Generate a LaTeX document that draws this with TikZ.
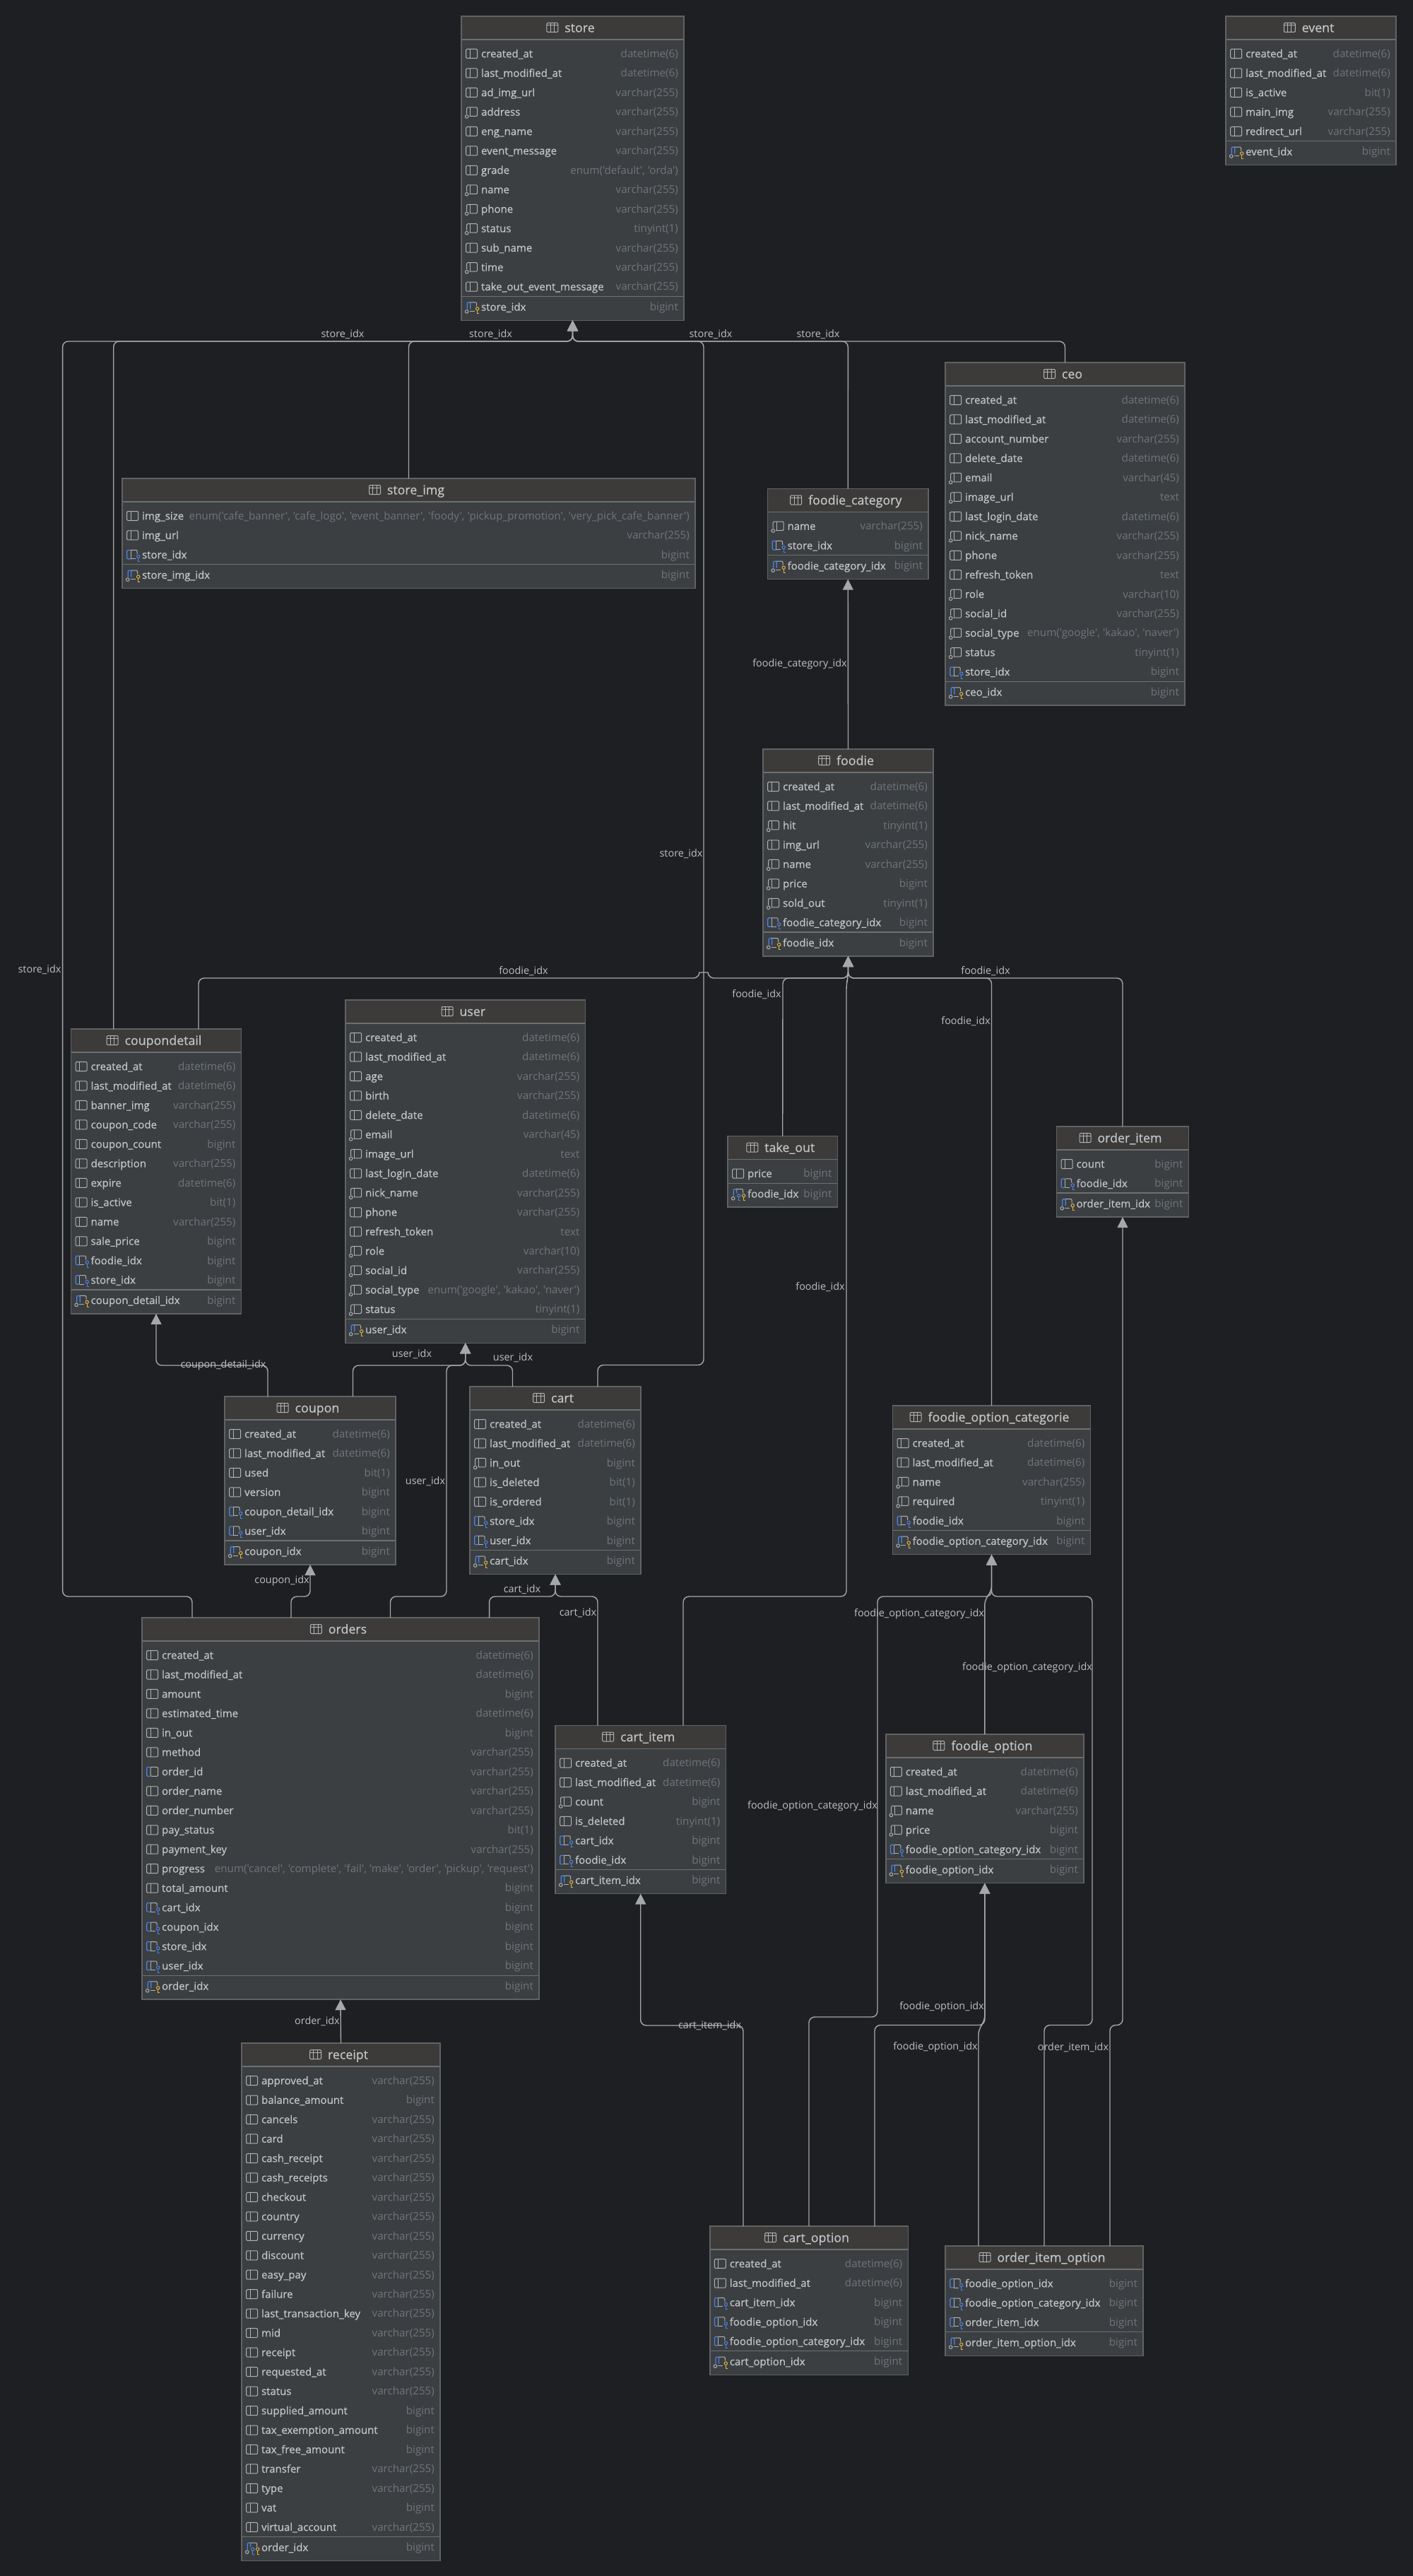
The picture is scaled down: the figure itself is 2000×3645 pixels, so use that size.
\documentclass[tikz,border=0pt]{standalone}
\usepackage{fontspec}
\usetikzlibrary{arrows.meta}
\newfontfamily\erdname[FakeBold=0.6]{Open Sans}
\newfontfamily\erdplain{Open Sans}
\definecolor{bgcol}{HTML}{1E1F22}
\definecolor{bodycol}{HTML}{3B3F42}
\definecolor{headcol}{HTML}{3C3B3A}
\definecolor{bordcol}{HTML}{606264}
\definecolor{sepcol}{HTML}{6E6F70}
\definecolor{namecol}{HTML}{C2C4C6}
\definecolor{typecol}{HTML}{70757A}
\definecolor{linecol}{HTML}{A6A7A8}
\definecolor{lblcol}{HTML}{BEBFC0}
\definecolor{iconcol}{HTML}{B0B2B4}
\definecolor{bluecol}{HTML}{4E82E4}
\definecolor{keycol}{HTML}{E4B23C}
\tikzset{
  x=0.5pt,y=-0.5pt,
  tablebox/.style={draw=bordcol,line width=0.8pt,inner sep=0pt,outer sep=0pt,fill=bodycol},
  headband/.style={fill=headcol},
  rule/.style={draw=sepcol,line width=0.7pt},
  titletext/.style={inner sep=0pt,text=namecol,font=\erdname\fontsize{8.9pt}{10pt}\selectfont},
  colname/.style={inner sep=0pt,text=namecol,font=\erdname\fontsize{7.5pt}{9pt}\selectfont},
  coltype/.style={inner sep=0pt,text=typecol,font=\erdplain\fontsize{7.6pt}{9pt}\selectfont},
  edgelabel/.style={inner sep=0pt,text=lblcol,font=\erdplain\fontsize{7.2pt}{9pt}\selectfont},
  ic/.style={draw=iconcol,line width=0.5pt,rounded corners=0.7pt},
  icb/.style={draw=bluecol,line width=0.6pt,rounded corners=0.7pt},
  conn/.style={draw=linecol,line width=0.7pt,rounded corners=4pt},
  fk/.style={conn,-{Triangle[length=7.5pt,width=7.5pt,fill=linecol]}},
}
\newcommand\ickey[1]{%
  \draw[draw=#1,line width=0.5pt] (16,2.5) circle (2.2);
  \draw[draw=#1,line width=0.5pt] (16,4.7) -- (16,9.5) -- (18.5,9.5);}
\newcommand\icn{\draw[ic] (0,-6.5) rectangle (16,6.5); \draw[ic] (5.5,-6.5) -- (5.5,6.5);}
\newcommand\ico{\draw[ic] (1,3) -- (1,-6.5) -- (16,-6.5) -- (16,6) -- (5,6); \draw[ic] (6,-6.5) -- (6,6);
  \draw[draw=iconcol,line width=0.5pt] (1,6.5) circle (2.3);}
\newcommand\icu{\draw[ic] (5.5,-6.5) -- (16,-6.5) -- (16,6.5) -- (5.5,6.5) -- cycle;
  \draw[icb] (5.5,-6.5) -- (0,-6.5) -- (0,6.5) -- (5.5,6.5);}
\newcommand\icf{\draw[ic] (5.5,-6.5) -- (14.5,-6.5) -- (14.5,-1); \draw[ic] (5.5,6) -- (12,6); \draw[ic] (5.5,-6.5) -- (5.5,6);
  \draw[icb] (5.5,-6.5) -- (0,-6.5) -- (0,6) -- (5.5,6); \ickey{bluecol}}
\newcommand\icp{\draw[ic] (5.5,-6.5) -- (15,-6.5) -- (15,-1); \draw[ic] (5,6) -- (12,6);
  \draw[icb] (1.5,3) -- (1.5,-6.5) -- (6,-6.5) -- (6,3); \draw[draw=iconcol,line width=0.5pt] (1,6.5) circle (2.3);
  \ickey{keycol}}
\newcommand\icq{\draw[ic] (5.5,-6.5) -- (15,-6.5) -- (15,-1);
  \draw[icb] (1.5,3) -- (1.5,-6.5) -- (6,-6.5) -- (6,-1); \draw[draw=iconcol,line width=0.5pt] (1,6.5) circle (2.3);
  \draw[draw=bluecol,line width=0.5pt] (9,2.5) circle (2.2); \draw[draw=bluecol,line width=0.5pt] (9,4.7) -- (9,9.5) -- (11.5,9.5);
  \ickey{keycol}}
% id, left, right, top, number of plain rows, rows, pk name, pk icon
\newcommand\erd[8]{%
  \pgfmathsetmacro\erS{#4+53+(#5-1)*27.47+13.7}%
  \pgfmathsetmacro\erP{\erS+15}%
  \pgfmathsetmacro\erB{\erP+19}%
  \node[tablebox,anchor=north west,minimum width={(#3-#2)*0.5pt},minimum height={(\erB-#4)*0.5pt}] (#1) at (#2,#4) {};
  \fill[headband] (#2,#4) rectangle (#3,#4+33);
  \draw[rule] (#2,#4+33) -- (#3,#4+33);
  \draw[rule] (#2,\erS) -- (#3,\erS);
  \draw[draw=bordcol,line width=0.8pt] (#2,#4) rectangle (#3,\erB);
  \node[titletext,anchor=base] (#1-title) at ({(#2+#3)/2+10},#4+22.5) {#1};
  \begin{scope}[shift={(#1-title.base west)}]
    \draw[ic] (-25,-13) rectangle (-9,0);
    \draw[ic] (-25,-9.5) -- (-9,-9.5);
    \draw[ic] (-19.7,-13) -- (-19.7,0);
    \draw[ic] (-14.3,-13) -- (-14.3,0);
  \end{scope}
  \foreach \kd/\nm/\ty [count=\ri] in {#6} {
    \pgfmathsetmacro\ry{#4+53+(\ri-1)*27.47}
    \begin{scope}[shift={(#2+6.7,\ry)}]\csname ic\kd\endcsname\end{scope}
    \node[colname,anchor=base west] (#1-n\ri) at (#2+27.7,\ry+5.3) {\nm};
    \node[coltype,anchor=base east] (#1-t\ri) at (#3-7.7,\ry+5.3) {\ty};
  }
  \begin{scope}[shift={(#2+6.7,\erP)}]\csname ic#8\endcsname\end{scope}
  \node[colname,anchor=base west] (#1-pk) at (#2+27.7,\erP+5.3) {#7};
  \node[coltype,anchor=base east] (#1-pkt) at (#3-7.7,\erP+5.3) {bigint};
}
\catcode`\_=12
\begin{document}
\begin{tikzpicture}
\useasboundingbox (0,0) rectangle (2000,3645);
\fill[bgcol] (0,0) rectangle (2000,3645);

\erd{store}{653}{968}{23}{13}{n/created_at/datetime(6),n/last_modified_at/datetime(6),n/ad_img_url/varchar(255),o/address/varchar(255),n/eng_name/varchar(255),n/event_message/varchar(255),n/grade/{enum('default', 'orda')},o/name/varchar(255),o/phone/varchar(255),o/status/tinyint(1),n/sub_name/varchar(255),o/time/varchar(255),n/take_out_event_message/varchar(255)}{store_idx}{p}
\erd{event}{1735}{1976}{23}{5}{n/created_at/datetime(6),n/last_modified_at/datetime(6),n/is_active/bit(1),n/main_img/varchar(255),n/redirect_url/varchar(255)}{event_idx}{p}
\erd{ceo}{1338}{1677}{513}{15}{n/created_at/datetime(6),n/last_modified_at/datetime(6),n/account_number/varchar(255),n/delete_date/datetime(6),o/email/varchar(45),o/image_url/text,n/last_login_date/datetime(6),o/nick_name/varchar(255),n/phone/varchar(255),n/refresh_token/text,o/role/varchar(10),o/social_id/varchar(255),o/social_type/{enum('google', 'kakao', 'naver')},o/status/tinyint(1),f/store_idx/bigint}{ceo_idx}{p}
\erd{store_img}{173}{984}{677}{3}{n/img_size/{enum('cafe_banner', 'cafe_logo', 'event_banner', 'foody', 'pickup_promotion', 'very_pick_cafe_banner')},n/img_url/varchar(255),f/store_idx/bigint}{store_img_idx}{p}
\erd{foodie_category}{1086.5}{1314}{691.5}{2}{o/name/varchar(255),f/store_idx/bigint}{foodie_category_idx}{p}
\erd{foodie}{1080}{1321}{1060}{8}{n/created_at/datetime(6),n/last_modified_at/datetime(6),o/hit/tinyint(1),n/img_url/varchar(255),o/name/varchar(255),o/price/bigint,o/sold_out/tinyint(1),f/foodie_category_idx/bigint}{foodie_idx}{p}
\erd{coupondetail}{100.5}{341.5}{1456}{12}{n/created_at/datetime(6),n/last_modified_at/datetime(6),n/banner_img/varchar(255),n/coupon_code/varchar(255),n/coupon_count/bigint,n/description/varchar(255),n/expire/datetime(6),n/is_active/bit(1),n/name/varchar(255),n/sale_price/bigint,f/foodie_idx/bigint,f/store_idx/bigint}{coupon_detail_idx}{p}
\erd{user}{489}{828.5}{1415}{15}{n/created_at/datetime(6),n/last_modified_at/datetime(6),n/age/varchar(255),n/birth/varchar(255),n/delete_date/datetime(6),o/email/varchar(45),o/image_url/text,n/last_login_date/datetime(6),o/nick_name/varchar(255),n/phone/varchar(255),n/refresh_token/text,o/role/varchar(10),o/social_id/varchar(255),o/social_type/{enum('google', 'kakao', 'naver')},o/status/tinyint(1)}{user_idx}{p}
\erd{take_out}{1030}{1185.5}{1607.5}{1}{n/price/bigint}{foodie_idx}{q}
\erd{order_item}{1495.5}{1682.5}{1594}{2}{n/count/bigint,f/foodie_idx/bigint}{order_item_idx}{p}
\erd{coupon}{318}{560}{1976}{6}{n/created_at/datetime(6),n/last_modified_at/datetime(6),n/used/bit(1),n/version/bigint,f/coupon_detail_idx/bigint,f/user_idx/bigint}{coupon_idx}{p}
\erd{cart}{665}{907}{1962}{7}{n/created_at/datetime(6),n/last_modified_at/datetime(6),o/in_out/bigint,n/is_deleted/bit(1),n/is_ordered/bit(1),f/store_idx/bigint,f/user_idx/bigint}{cart_idx}{p}
\erd{foodie_option_categorie}{1263.5}{1543.5}{1989}{5}{n/created_at/datetime(6),n/last_modified_at/datetime(6),o/name/varchar(255),o/required/tinyint(1),f/foodie_idx/bigint}{foodie_option_category_idx}{p}
\erd{orders}{201}{763}{2289}{17}{n/created_at/datetime(6),n/last_modified_at/datetime(6),n/amount/bigint,n/estimated_time/datetime(6),n/in_out/bigint,n/method/varchar(255),u/order_id/varchar(255),n/order_name/varchar(255),n/order_number/varchar(255),n/pay_status/bit(1),n/payment_key/varchar(255),n/progress/{enum('cancel', 'complete', 'fail', 'make', 'order', 'pickup', 'request')},n/total_amount/bigint,f/cart_idx/bigint,f/coupon_idx/bigint,f/store_idx/bigint,f/user_idx/bigint}{order_idx}{p}
\erd{cart_item}{786}{1027.5}{2441.5}{6}{n/created_at/datetime(6),n/last_modified_at/datetime(6),o/count/bigint,n/is_deleted/tinyint(1),f/cart_idx/bigint,f/foodie_idx/bigint}{cart_item_idx}{p}
\erd{foodie_option}{1253.7}{1534}{2454}{5}{n/created_at/datetime(6),n/last_modified_at/datetime(6),o/name/varchar(255),o/price/bigint,f/foodie_option_category_idx/bigint}{foodie_option_idx}{p}
\erd{receipt}{342}{623}{2891}{24}{n/approved_at/varchar(255),n/balance_amount/bigint,n/cancels/varchar(255),n/card/varchar(255),n/cash_receipt/varchar(255),n/cash_receipts/varchar(255),n/checkout/varchar(255),n/country/varchar(255),n/currency/varchar(255),n/discount/varchar(255),n/easy_pay/varchar(255),n/failure/varchar(255),n/last_transaction_key/varchar(255),n/mid/varchar(255),n/receipt/varchar(255),n/requested_at/varchar(255),n/status/varchar(255),n/supplied_amount/bigint,n/tax_exemption_amount/bigint,n/tax_free_amount/bigint,n/transfer/varchar(255),n/type/varchar(255),n/vat/bigint,n/virtual_account/varchar(255)}{order_idx}{q}
\erd{cart_option}{1004.7}{1285.3}{3150}{5}{n/created_at/datetime(6),n/last_modified_at/datetime(6),f/cart_item_idx/bigint,f/foodie_option_idx/bigint,f/foodie_option_category_idx/bigint}{cart_option_idx}{p}
\erd{order_item_option}{1338}{1618}{3178}{3}{f/foodie_option_idx/bigint,f/foodie_option_category_idx/bigint,f/order_item_idx/bigint}{order_item_option_idx}{p}

% store_idx
\draw[fk] (272,0 |- orders.north) -- (272,2259) -- (88.6,2259) -- (88.6,483) -- (810.5,483) -- (store.south);
\draw[fk] (160.7,0 |- coupondetail.north) -- (160.7,483) -- (810.5,483) -- (store.south);
\draw[fk] (store_img.north) -- (578.5,483) -- (810.5,483) -- (store.south);
\draw[fk] (846,0 |- cart.north) -- (846,1931.5) -- (996,1931.5) -- (996,483) -- (810.5,483) -- (store.south);
\draw[fk] (foodie_category.north) -- (1200.3,483) -- (810.5,483) -- (store.south);
\draw[fk] (ceo.north) -- (1507.5,483) -- (810.5,483) -- (store.south);
% foodie_category_idx
\draw[fk] (foodie.north) -- (foodie_category.south);
% foodie_idx
\draw[fk] (281,0 |- coupondetail.north) -- (281,1384) -- (989.5,1384) .. controls (990,1376) and (1002,1376) .. (1002.5,1384) -- (1200.5,1384) -- (foodie.south);
\draw[fk] (take_out.north) -- (1108,1384) -- (1200.5,1384) -- (foodie.south);
\draw[fk] (967,0 |- cart_item.north) -- (967,2259) -- (1198,2259) -- (1198,1392) -- (1200.5,1382) -- (foodie.south);
\draw[fk] (foodie_option_categorie.north) -- (1403.5,1384) -- (1200.5,1384) -- (foodie.south);
\draw[fk] (order_item.north) -- (1589,1384) -- (1200.5,1384) -- (foodie.south);
% user_idx
\draw[fk] (499.5,0 |- coupon.north) -- (499.5,1932) -- (658.7,1932) -- (user.south);
\draw[fk] (725.5,0 |- cart.north) -- (725.5,1932) -- (658.7,1932) -- (user.south);
\draw[fk] (552.5,0 |- orders.north) -- (552.5,2259) -- (632,2259) -- (632,1932) -- (658.7,1932) -- (user.south);
% coupon
\draw[fk] (379,0 |- coupon.north) -- (379,1932) -- (221,1932) -- (coupondetail.south);
\draw[fk] (412,0 |- orders.north) -- (412,2259) -- (439,2259) -- (coupon.south);
% cart_idx
\draw[fk] (692.6,0 |- orders.north) -- (692.6,2259) -- (786,2259) -- (cart.south);
\draw[fk] (846,0 |- cart_item.north) -- (846,2259) -- (786,2259) -- (cart.south);
% order_idx
\draw[fk] (receipt.north) -- (orders.south);
% cart_item_idx
\draw[fk] (1052,0 |- cart_option.north) -- (1052,2866) -- (906.7,2866) -- (cart_item.south);
% foodie_option_category_idx
\draw[fk] (foodie_option.north) -- (1393.8,2263) -- (1403.5,2252) -- (foodie_option_categorie.south);
\draw[fk] (cart_option.north) -- (1145,2854) -- (1242,2854) -- (1242,2259) -- (1403.5,2259) -- (foodie_option_categorie.south);
\draw[fk] (order_item_option.north) -- (1478,2865.5) -- (1546,2865.5) -- (1546,2259) -- (1403.5,2259) -- (foodie_option_categorie.south);
% foodie_option_idx
\draw[fk] (1238,0 |- cart_option.north) -- (1238,2865.5) -- (1393.8,2865.5) -- (foodie_option.south);
\draw[fk] (1385,0 |- order_item_option.north) -- (1385,2871) -- (1393.8,2860) -- (foodie_option.south);
% order_item_idx
\draw[fk] (1571,0 |- order_item_option.north) -- (1571,2865.5) -- (1589,2865.5) -- (order_item.south);

% connector labels
\node[edgelabel] (l01) at (485,473) {store_idx};
\node[edgelabel] (l02) at (694.5,473) {store_idx};
\node[edgelabel] (l03) at (1006,473) {store_idx};
\node[edgelabel] (l04) at (1158,473) {store_idx};
\node[edgelabel] (l05) at (56,1372) {store_idx};
\node[edgelabel] (l06) at (964,1208) {store_idx};
\node[edgelabel] (l07) at (1132,940) {foodie_category_idx};
\node[edgelabel] (l08) at (741,1374) {foodie_idx};
\node[edgelabel] (l09) at (1071,1407) {foodie_idx};
\node[edgelabel] (l10) at (1395,1374) {foodie_idx};
\node[edgelabel] (l11) at (1367,1445) {foodie_idx};
\node[edgelabel] (l12) at (1161,1821) {foodie_idx};
\node[edgelabel] (l13) at (316,1932) {coupon_detail_idx};
\node[edgelabel] (l14) at (583,1916) {user_idx};
\node[edgelabel] (l15) at (726,1921) {user_idx};
\node[edgelabel] (l16) at (602,2096) {user_idx};
\node[edgelabel] (l17) at (399,2237) {coupon_idx};
\node[edgelabel] (l18) at (739,2249) {cart_idx};
\node[edgelabel] (l19) at (818,2282) {cart_idx};
\node[edgelabel] (l20) at (449,2860) {order_idx};
\node[edgelabel] (l21) at (1004.6,2866) {cart_item_idx};
\node[edgelabel] (l22) at (1301,2284) {foodie_option_category_idx};
\node[edgelabel] (l23) at (1454,2360) {foodie_option_category_idx};
\node[edgelabel] (l24) at (1150,2556) {foodie_option_category_idx};
\node[edgelabel] (l25) at (1333,2840) {foodie_option_idx};
\node[edgelabel] (l26) at (1324,2897) {foodie_option_idx};
\node[edgelabel] (l27) at (1519,2897) {order_item_idx};
\end{tikzpicture}
\end{document}
